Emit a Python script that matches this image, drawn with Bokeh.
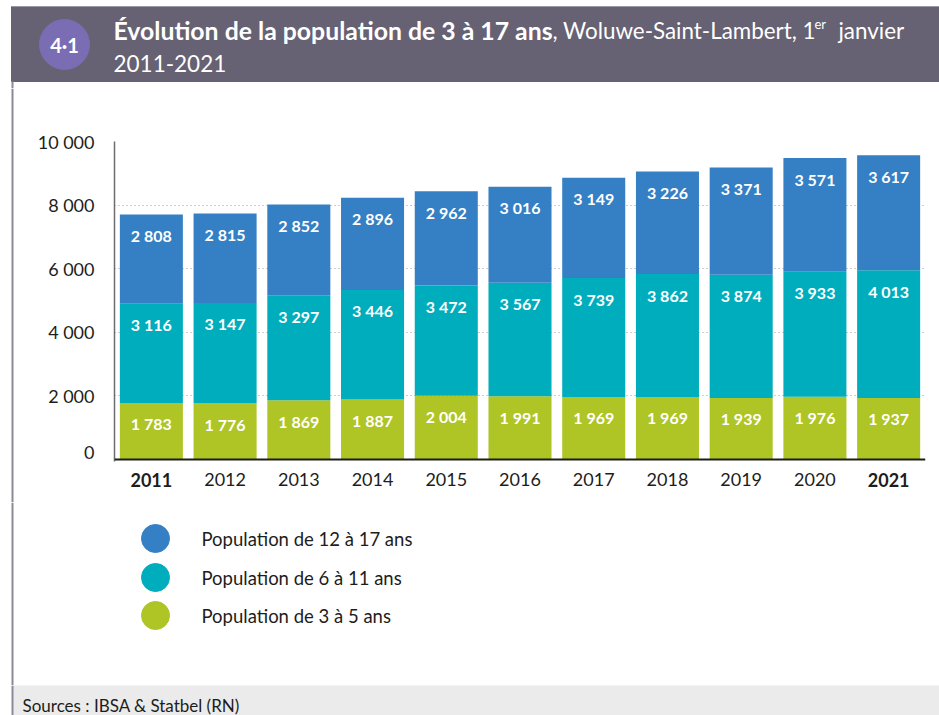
from bokeh.plotting import figure
from bokeh.models import ColumnDataSource, Range1d, FactorRange, FixedTicker, Span
from bokeh.layouts import column, row
from bokeh.core.properties import value
from bokeh.embed import file_html
from bokeh.resources import INLINE

# ---------------- data ----------------
years = ["2011", "2012", "2013", "2014", "2015", "2016", "2017", "2018", "2019", "2020", "2021"]
pop_3_5 = [1783, 1776, 1869, 1887, 2004, 1991, 1969, 1969, 1939, 1976, 1937]
pop_6_11 = [3116, 3147, 3297, 3446, 3472, 3567, 3739, 3862, 3874, 3933, 4013]
pop_12_17 = [2808, 2815, 2852, 2896, 2962, 3016, 3149, 3226, 3371, 3571, 3617]
bold_years = ["2011", "2021"]
y_ticks = [0, 2000, 4000, 6000, 8000, 10000]
legend_labels = ["Population de 12 à 17 ans", "Population de 6 à 11 ans", "Population de 3 à 5 ans"]
legend_colors = ["#3580c4", "#00adbc", "#afc425"]
title_bold = "Évolution de la population de 3 à 17 ans"
title_rest = ", Woluwe-Saint-Lambert, 1"
title_sup = "er"
title_end = "janvier"
title_line2 = "2011-2021"
badge = "4·1"
source_text = "Sources : IBSA & Statbel (RN)"

COL_3_5, COL_6_11, COL_12_17 = "#afc425", "#00adbc", "#3580c4"
FONT = "Lato"
BORDER = "#8c8a99"


def fmt(v, sep=" "):
    return f"{v:,}".replace(",", sep)


def base(**kw):
    opts = dict(output_backend="svg", toolbar_location=None, min_border=0,
                outline_line_color=None, background_fill_color="white",
                border_fill_color="white", x_axis_location=None, y_axis_location=None)
    opts.update(kw)
    p = figure(**opts)
    p.grid.visible = False
    return p


# ---------------- header ----------------
h = base(width=939, height=88, x_range=Range1d(0, 939), y_range=Range1d(88, 0))
h.quad(left=11, right=939, top=6, bottom=81, color="#666173")
h.segment(x0=11, y0=6, x1=939, y1=6, line_color="#9c98a8", line_width=1)
h.segment(x0=12, y0=81, x1=12, y1=88, line_color=BORDER, line_width=2)
h.circle(x=[64], y=[44], radius=25, color="#7a6db3")
h.text(x=[64], y=[44], text=[badge], text_color="white", text_font=value(FONT),
       text_font_style="bold", text_font_size=value("20px"),
       text_align="center", text_baseline="middle")
h.text(x=[113], y=[30], text=[title_bold], text_color="white", text_font=value(FONT),
       text_font_style="bold", text_font_size=value("24.8px"),
       text_align="left", text_baseline="middle")
h.text(x=[552], y=[30], text=[title_rest], text_color="white", text_font=value(FONT),
       text_font_size=value("22.4px"), text_align="left", text_baseline="middle")
h.text(x=[814], y=[23], text=[title_sup], text_color="white", text_font=value(FONT),
       text_font_size=value("13px"), text_align="left", text_baseline="middle")
h.text(x=[838], y=[30], text=[title_end], text_color="white", text_font=value(FONT),
       text_font_size=value("22.4px"), text_align="left", text_baseline="middle")
h.text(x=[113], y=[63], text=[title_line2], text_color="white", text_font=value(FONT),
       text_font_size=value("22.5px"), text_align="left", text_baseline="middle")

# ---------------- left border strip ----------------
fb = base(width=14, height=414, x_range=Range1d(0, 14), y_range=Range1d(0, 414))
fb.segment(x0=12, y0=0, x1=12, y1=414, line_color=BORDER, line_width=2)

# ---------------- chart ----------------
top_a = pop_3_5
top_b = [a + b for a, b in zip(pop_3_5, pop_6_11)]
top_c = [a + b + c for a, b, c in zip(pop_3_5, pop_6_11, pop_12_17)]

src = ColumnDataSource(dict(year=years, a=pop_3_5, b=pop_6_11, c=pop_12_17))

c = base(width=925, height=374, x_range=FactorRange(*years), y_range=Range1d(-60, 10000),
         y_axis_location="left", min_border_left=100, min_border_right=14,
         min_border_top=53, min_border_bottom=1)
c.ygrid.visible = True
c.ygrid.ticker = FixedTicker(ticks=y_ticks)
c.ygrid.grid_line_color = "#9a9a9a"
c.ygrid.grid_line_dash = "1 3"
c.ygrid.grid_line_width = 1

c.vbar_stack(["a", "b", "c"], x="year", width=0.855, color=[COL_3_5, COL_6_11, COL_12_17],
             line_color=None, source=src)

for tops, vals in ((top_a, pop_3_5), (top_b, pop_6_11), (top_c, pop_12_17)):
    ls = ColumnDataSource(dict(x=years, y=tops, t=[fmt(v) for v in vals]))
    c.text(x="x", y="y", text="t", source=ls, y_offset=21, text_color="white",
           text_font=value(FONT), text_font_style="bold", text_font_size=value("16px"),
           text_align="center", text_baseline="middle")

c.add_layout(Span(location=0, dimension="width", line_color="#1d1d1b", line_width=2))

c.yaxis.ticker = FixedTicker(ticks=y_ticks)
c.yaxis.major_label_overrides = {t: fmt(t) for t in y_ticks}
c.yaxis.axis_line_color = "#6e6e6e"
c.yaxis.axis_line_width = 1.5
c.yaxis.major_tick_line_color = None
c.yaxis.minor_tick_line_color = None
c.yaxis.major_label_standoff = 14
c.yaxis.major_label_text_font = FONT
c.yaxis.major_label_text_font_size = "18px"
c.yaxis.major_label_text_color = "#1d1d1b"

# ---------------- year labels (shared categorical x) ----------------
f3 = base(width=925, height=40, x_range=c.x_range, y_range=Range1d(40, 0),
          min_border_left=100, min_border_right=14)
ysrc = ColumnDataSource(dict(x=years, t=years,
                             s=["bold" if y in bold_years else "normal" for y in years]))
f3.text(x="x", y=17, text="t", text_font_style="s", source=ysrc, text_color="#1d1d1b",
        text_font=value(FONT), text_font_size=value("18px"),
        text_align="center", text_baseline="middle")

# ---------------- legend ----------------
lg = base(width=939, height=183, x_range=Range1d(0, 939), y_range=Range1d(183, 0))
lg.segment(x0=12, y0=0, x1=12, y1=183, line_color=BORDER, line_width=2)
leg_y = [36, 75, 113]
lg.scatter(x=[155, 155, 155], y=leg_y, size=28, color=legend_colors)
lg.text(x=[201, 201, 201], y=leg_y, text=legend_labels,
        text_color="#1d1d1b", text_font=value(FONT), text_font_size=value("18.5px"),
        text_align="left", text_baseline="middle")

# ---------------- sources ----------------
f4 = base(width=939, height=30, x_range=Range1d(0, 939), y_range=Range1d(30, 0))
f4.quad(left=12, right=939, top=0, bottom=30, color="#ebebeb")
f4.segment(x0=12, y0=0, x1=12, y1=30, line_color=BORDER, line_width=2)
f4.text(x=[22], y=[20], text=[source_text], text_color="#1d1d1b", text_font=value(FONT),
        text_font_size=value("17px"), text_align="left", text_baseline="middle")

layout = column(h, row(fb, column(c, f3)), lg, f4)
open("out.html", "w").write(file_html(layout, INLINE))
